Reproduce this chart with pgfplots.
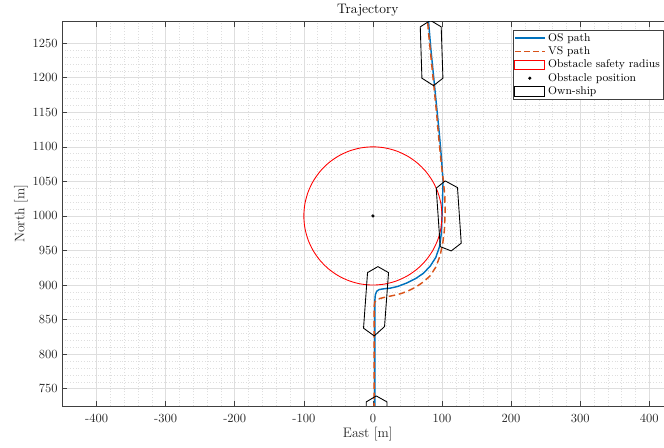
\documentclass[border=0pt]{standalone}
\usepackage{pgfplots}
\pgfplotsset{compat=1.18}
\definecolor{osblue}{rgb}{0,0.447,0.741}
\definecolor{vsorange}{rgb}{0.85,0.325,0.098}
\definecolor{axgray}{rgb}{0.15,0.15,0.15}
\pgfplotsset{
  legos/.style={legend image code/.code={\draw[osblue, line width=1.3pt, solid] (0pt,0pt) -- (24pt,0pt);}},
  legvs/.style={legend image code/.code={\draw[vsorange, line width=1.3pt, dash pattern=on 4.6pt off 2.7pt] (0pt,0pt) -- (24pt,0pt);}},
  legred/.style={legend image code/.code={\draw[red, line width=0.7pt, solid] (0pt,-3.8pt) rectangle (24pt,3.8pt);}},
  legblack/.style={legend image code/.code={\draw[black, line width=0.7pt, solid] (0pt,-3.8pt) rectangle (24pt,3.8pt);}},
  legdot/.style={legend image code/.code={\fill[black] (12pt,0pt) circle (1.1pt);}},
}
\begin{document}
\begin{tikzpicture}
\begin{axis}[
  name=ax,
  scale only axis,
  width=489.2pt, height=307.4pt,
  xmin=-450, xmax=435, ymin=725, ymax=1281,
  xtick={-400,-300,-200,-100,0,100,200,300,400},
  xticklabels={-400,-300,-200,-100,0,100,200,300,400},
  ytick={750,800,850,900,950,1000,1050,1100,1150,1200,1250},
  /pgf/number format/1000 sep={},
  minor x tick num=4, minor y tick num=4,
  grid=both,
  major grid style={draw=black!13, line width=0.4pt},
  minor grid style={draw=black!13, dash pattern=on 0.6pt off 1.6pt, line width=0.4pt},
  tick align=inside,
  major tick length=4pt, minor tick length=0pt,
  axis line style={draw=black!75, line width=0.5pt},
  every tick/.style={draw=black!75, line width=0.5pt},
  tick label style={font=\fontsize{10}{12}\selectfont, text=axgray},
  xticklabel style={yshift=-3pt},
  title={Trajectory},
  title style={at={(axis description cs:0.5,1)}, anchor=south, inner sep=0pt, yshift=-2pt, font=\fontsize{11}{13}\selectfont, text=black},
  xlabel={East [m]},
  xlabel style={at={(axis description cs:0.5,0)}, anchor=north, inner sep=0pt, yshift=-16.8pt, font=\fontsize{11}{13}\selectfont, text=axgray},
  ylabel={North [m]},
  ylabel style={at={(axis description cs:-0.0556,0.5)}, anchor=south, rotate=0, inner sep=0pt, font=\fontsize{11}{13}\selectfont, text=axgray},
  legend cell align=left,
  legend style={at={(axis description cs:0.9832,0.979)}, anchor=north east,
    font=\fontsize{9}{10}\selectfont, draw=black!75, fill=white,
    inner xsep=0.5pt, inner ysep=0.6pt, row sep=-1.2pt},
]
% OS path
\addplot[osblue, line width=1.15pt, legos] coordinates {
(2.8,720) (2.8,878) (3.5,886) (5.5,891) (9,893.5) (15,894.5) (25,895.5) (36,898)
(49,903) (62,909.5) (73,917) (83,927.5) (91,940) (96.5,956) (99,975) (100,1000)
(100.8,1025) (101.5,1050) (99.5,1080) (96,1120) (92,1160) (88,1200) (84,1240) (80.5,1281) (80,1290)
};
\addlegendentry{OS path}
% VS path
\addplot[vsorange, line width=1.15pt, dash pattern=on 5.2pt off 3pt, legvs] coordinates {
(1.6,720) (1.6,868) (2.5,875) (5,878.5) (10,880.5) (20,883) (30,885) (40,887.5)
(50,891) (62,897) (73,904.5) (83,913.5) (91,926) (97,942) (101,960) (103.5,980)
(104.5,1005) (104,1030) (102,1050) (99,1075) (95.5,1110) (92,1150) (88,1190)
(84,1230) (80,1270) (78.5,1290)
};
\addlegendentry{VS path}
% obstacle safety radius
\addplot[red, line width=0.7pt, smooth, legred] coordinates {
(100,1000) (98.48,1017.36) (93.97,1034.20) (86.60,1050) (76.60,1064.28) (64.28,1076.60)
(50,1086.60) (34.20,1093.97) (17.36,1098.48) (0,1100) (-17.36,1098.48) (-34.20,1093.97)
(-50,1086.60) (-64.28,1076.60) (-76.60,1064.28) (-86.60,1050) (-93.97,1034.20) (-98.48,1017.36)
(-100,1000) (-98.48,982.64) (-93.97,965.80) (-86.60,950) (-76.60,935.72) (-64.28,923.40)
(-50,913.40) (-34.20,906.03) (-17.36,901.52) (0,900) (17.36,901.52) (34.20,906.03)
(50,913.40) (64.28,923.40) (76.60,935.72) (86.60,950) (93.97,965.80) (98.48,982.64) (100,1000)
};
\addlegendentry{Obstacle safety radius}
% obstacle position
\addplot[only marks, mark=*, mark size=1.1pt, black, legdot] coordinates {(0,1000)};
\addlegendentry{Obstacle position}
% own-ship outlines
\addplot[black, line width=0.7pt, legblack] coordinates {
(4.8,739.6) (20.3,730.9) (20.3,650) (5,640) (-9.7,650) (-9.7,730.9) (4.8,739.6)
};
\addlegendentry{Own-ship}
\addplot[black, line width=0.7pt, forget plot] coordinates {
(7.2,926.7) (22.6,918) (16.8,839.9) (1.9,826.4) (-13.6,837.6) (-7.8,918) (7.2,926.7)
};
\addplot[black, line width=0.7pt, forget plot] coordinates {
(104.6,1050.7) (122.4,1041) (127.8,960.6) (113.3,949.4) (97.4,955.6) (91.6,1040.2) (104.6,1050.7)
};
\addplot[black, line width=0.7pt, forget plot] coordinates {
(83.3,1283) (98.8,1273.6) (101.3,1199.3) (87.7,1188.6) (70.9,1199.3) (68.5,1273.6) (83.3,1283)
};
\end{axis}
\pgfresetboundingbox
\path[use as bounding box] ([xshift=-49.6pt,yshift=-33.6pt]ax.south west) rectangle ++(531.2pt,358.4pt);
\end{tikzpicture}
\end{document}
